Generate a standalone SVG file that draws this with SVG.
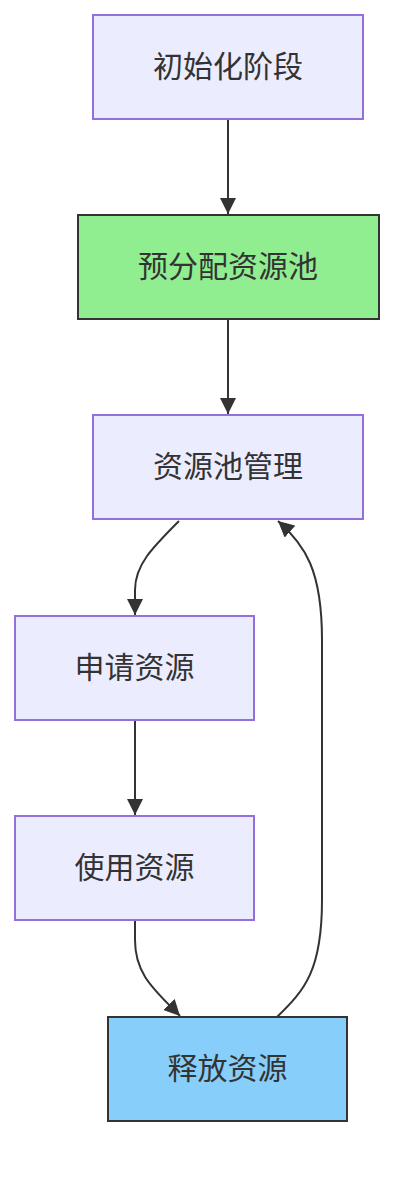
<svg xmlns="http://www.w3.org/2000/svg" width="410" height="1180" viewBox="0 0 410 1180">
<style>
.node rect{fill:#ECECFF;stroke:#9370DB;stroke-width:2}
.node.green rect{fill:#90EE90;stroke:#333333}
.node.blue rect{fill:#87CEFA;stroke:#333333}
.node text{font-family:"Noto Sans CJK SC","Liberation Sans",sans-serif;font-size:30px;fill:#333333;text-anchor:middle;dominant-baseline:central}
.edges path{fill:none;stroke:#333333;stroke-width:2}
</style>
<defs>
<marker id="arrow" viewBox="0 0 10 10" refX="10" refY="5" markerWidth="8" markerHeight="8" orient="auto" markerUnits="strokeWidth">
<path d="M0,0 L10,5 L0,10 z" fill="#333333"/>
</marker>
</defs>
<rect width="410" height="1180" fill="#ffffff"/>
<g class="edges">
<path d="M228,120 L228,214" marker-end="url(#arrow)"/>
<path d="M228,320 L228,414" marker-end="url(#arrow)"/>
<path d="M179,521 C152,548 135,565 135,590 L135,615" marker-end="url(#arrow)"/>
<path d="M135,721 L135,815" marker-end="url(#arrow)"/>
<path d="M135,921 L135,940 C135,975 155,990 180,1016" marker-end="url(#arrow)"/>
<path d="M277,1017 C305,990 322,970 322,900 L322,640 C322,570 305,545 278,521" marker-end="url(#arrow)"/>
</g>
<g id="node1" class="node"><rect x="93" y="15" width="270" height="104"/><text x="228" y="64">初始化阶段</text></g>
<g id="node2" class="node green"><rect x="78" y="215" width="301" height="104"/><text x="228" y="264">预分配资源池</text></g>
<g id="node3" class="node"><rect x="93" y="415" width="270" height="104"/><text x="228" y="464">资源池管理</text></g>
<g id="node4" class="node"><rect x="15" y="616" width="239" height="104"/><text x="134.5" y="665">申请资源</text></g>
<g id="node5" class="node"><rect x="15" y="816" width="239" height="104"/><text x="134.5" y="865">使用资源</text></g>
<g id="node6" class="node blue"><rect x="108" y="1017" width="239" height="104"/><text x="227.5" y="1066">释放资源</text></g>
</svg>
